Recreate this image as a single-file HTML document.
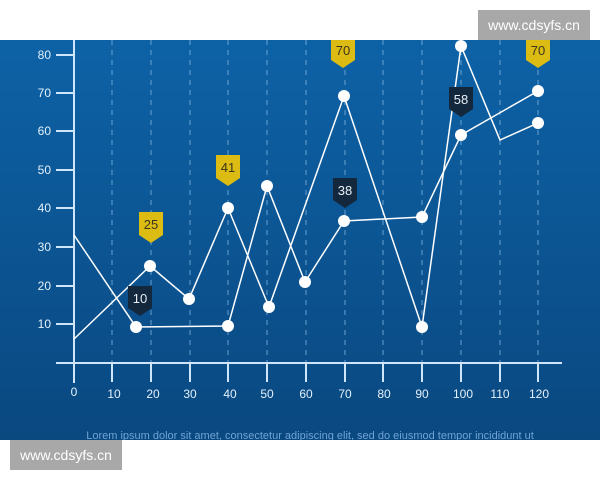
<!DOCTYPE html>
<html><head><style>
html,body{margin:0;padding:0;background:#fff;}
body{width:600px;height:480px;position:relative;overflow:hidden;font-family:"Liberation Sans",sans-serif;}
.wm{position:absolute;background:#a8a8a8;color:#fff;font-size:14px;line-height:30px;text-align:center;}
</style></head><body>
<svg width="600" height="480" style="position:absolute;left:0;top:0">
<defs><linearGradient id="g" x1="0" y1="0" x2="0" y2="1">
<stop offset="0" stop-color="#0d62a6"/><stop offset="1" stop-color="#0a4880"/></linearGradient></defs>
<rect x="0" y="40" width="600" height="400" fill="url(#g)"/>
<g stroke="#7fb4e0" stroke-width="1" stroke-dasharray="5,5" opacity="0.8">
<line x1="112" y1="40" x2="112" y2="362"/><line x1="151" y1="40" x2="151" y2="362"/>
<line x1="190" y1="40" x2="190" y2="362"/><line x1="228" y1="40" x2="228" y2="362"/>
<line x1="267" y1="40" x2="267" y2="362"/><line x1="306" y1="40" x2="306" y2="362"/>
<line x1="345" y1="40" x2="345" y2="362"/><line x1="383" y1="40" x2="383" y2="362"/>
<line x1="422" y1="40" x2="422" y2="362"/><line x1="461" y1="40" x2="461" y2="362"/>
<line x1="500" y1="40" x2="500" y2="362"/><line x1="538" y1="40" x2="538" y2="362"/>
</g>
<g stroke="#cfe6fa" stroke-width="2">
<line x1="74" y1="40" x2="74" y2="383"/><line x1="56" y1="363" x2="562" y2="363"/>
<line x1="56" y1="55" x2="74" y2="55"/><line x1="56" y1="93" x2="74" y2="93"/>
<line x1="56" y1="131" x2="74" y2="131"/><line x1="56" y1="170" x2="74" y2="170"/>
<line x1="56" y1="208" x2="74" y2="208"/><line x1="56" y1="247" x2="74" y2="247"/>
<line x1="56" y1="286" x2="74" y2="286"/><line x1="56" y1="324" x2="74" y2="324"/>
<line x1="112" y1="363" x2="112" y2="382"/><line x1="151" y1="363" x2="151" y2="382"/>
<line x1="190" y1="363" x2="190" y2="382"/><line x1="228" y1="363" x2="228" y2="382"/>
<line x1="267" y1="363" x2="267" y2="382"/><line x1="306" y1="363" x2="306" y2="382"/>
<line x1="345" y1="363" x2="345" y2="382"/><line x1="383" y1="363" x2="383" y2="382"/>
<line x1="422" y1="363" x2="422" y2="382"/><line x1="461" y1="363" x2="461" y2="382"/>
<line x1="500" y1="363" x2="500" y2="382"/><line x1="538" y1="363" x2="538" y2="382"/>
</g>
<g fill="#e4f1fc" font-size="12" text-anchor="end" font-family="Liberation Sans,sans-serif">
<text x="51" y="59">80</text><text x="51" y="97">70</text><text x="51" y="135">60</text>
<text x="51" y="174">50</text><text x="51" y="212">40</text><text x="51" y="251">30</text>
<text x="51" y="290">20</text><text x="51" y="328">10</text>
</g>
<g fill="#e4f1fc" font-size="12" text-anchor="middle" font-family="Liberation Sans,sans-serif">
<text x="74" y="396">0</text><text x="114" y="398">10</text><text x="153" y="398">20</text>
<text x="190" y="398">30</text><text x="230" y="398">40</text><text x="267" y="398">50</text>
<text x="306" y="398">60</text><text x="345" y="398">70</text><text x="384" y="398">80</text>
<text x="422" y="398">90</text><text x="463" y="398">100</text><text x="500" y="398">110</text>
<text x="539" y="398">120</text>
</g>
<g fill="none" stroke="#fff" stroke-width="1.5">
<polyline points="74,339 150,266 189,299 228,208 269,307 344,96 422,327 461,46 500,140 538,123"/>
<polyline points="74,235 136,327 228,326 267,186 305,282 344,221 422,217 461,135 538,91"/>
</g>
<g fill="#fff">
<circle cx="150" cy="266" r="6"/><circle cx="189" cy="299" r="6"/><circle cx="228" cy="208" r="6"/>
<circle cx="269" cy="307" r="6"/><circle cx="344" cy="96" r="6"/><circle cx="422" cy="327" r="6"/>
<circle cx="461" cy="46" r="6"/><circle cx="538" cy="123" r="6"/>
<circle cx="136" cy="327" r="6"/><circle cx="228" cy="326" r="6"/><circle cx="267" cy="186" r="6"/>
<circle cx="305" cy="282" r="6"/><circle cx="344" cy="221" r="6"/><circle cx="422" cy="217" r="6"/>
<circle cx="461" cy="135" r="6"/><circle cx="538" cy="91" r="6"/>
</g>
<g font-size="13" text-anchor="middle" font-family="Liberation Sans,sans-serif">
<path d="M139,212h24v23l-12,8l-12,-8z" fill="#dcbc12"/><text x="151" y="229" fill="#3a3520">25</text>
<path d="M216,155h24v23l-12,8l-12,-8z" fill="#dcbc12"/><text x="228" y="172" fill="#3a3520">41</text>
<path d="M331,40h24v20l-12,8l-12,-8z" fill="#dcbc12"/><text x="343" y="55" fill="#3a3520">70</text>
<path d="M526,40h24v20l-12,8l-12,-8z" fill="#dcbc12"/><text x="538" y="55" fill="#3a3520">70</text>
<path d="M128,286h24v22l-12,8l-12,-8z" fill="#13283d"/><text x="140" y="303" fill="#e8eef4">10</text>
<path d="M333,178h24v22l-12,8l-12,-8z" fill="#13283d"/><text x="345" y="195" fill="#e8eef4">38</text>
<path d="M449,87h24v22l-12,8l-12,-8z" fill="#13283d"/><text x="461" y="104" fill="#e8eef4">58</text>
</g>
<text x="310" y="439" fill="#6fa3d4" font-size="11" text-anchor="middle" font-family="Liberation Sans,sans-serif">Lorem ipsum dolor sit amet, consectetur adipiscing elit, sed do eiusmod tempor incididunt ut</text>
<rect x="0" y="440" width="600" height="40" fill="#fff"/>
</svg>
<div class="wm" style="left:478px;top:10px;width:112px;height:30px;">www.cdsyfs.cn</div>
<div class="wm" style="left:10px;top:440px;width:112px;height:30px;">www.cdsyfs.cn</div>
</body></html>
